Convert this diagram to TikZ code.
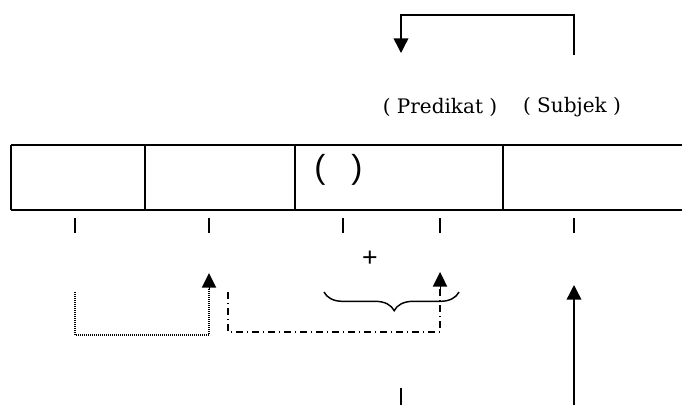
\documentclass[tikz,border=0pt]{standalone}
\usepackage{fontspec}
\setmainfont{DejaVu Serif}
\newfontfamily\labelsans{Liberation Sans}
\usetikzlibrary{arrows.meta,decorations.pathreplacing}

\begin{document}
\begin{tikzpicture}[x=0.75pt,y=-0.75pt,line cap=butt]
  % parameters (pixel grid of the sheet)
  \def\top{145}    % upper edge of the strip
  \def\bot{210}    % lower edge of the strip
  \def\tkA{218}    % tick marks below the strip
  \def\tkB{233}

  \tikzset{
    tipline/.style={line width=1.1pt,-{Triangle[length=11pt,width=11pt]}},
    dotline/.style={line width=0.8pt,dash pattern=on 0.7pt off 0.8pt},
    dashdotline/.style={line width=0.9pt,dash pattern=on 5pt off 3pt on 1pt off 3pt},
    labeltext/.style={font=\fontsize{15}{17}\selectfont},
  }

  \useasboundingbox (0,0) rectangle (682,405);

  % strip with four cells (right side runs off the sheet)
  \draw[line width=1.6pt] (11,\top) -- (682,\top);
  \draw[line width=1.6pt] (11,\bot) -- (682,\bot);
  \foreach \xc in {11,145,295,503}
    \draw[line width=1.3pt] (\xc,\top) -- (\xc,\bot);

  % parentheses in the third cell
  \node[font=\labelsans\fontsize{25}{25}\selectfont] (lpar) at (320,170) {(};
  \node[font=\labelsans\fontsize{25}{25}\selectfont] (rpar) at (357,170) {)};

  % labels above the strip
  \node[labeltext] (pred) at (440,107) {( Predikat )};
  \node[labeltext] (subj) at (572,107) {( Subjek )};

  % tick marks under the strip
  \foreach \xc in {75,209,343,440,574}
    \draw[line width=1.2pt] (\xc,\tkA) -- (\xc,\tkB);

  \node[font=\labelsans\fontsize{20}{22}\selectfont] (plus) at (370,259) {+};

  % top connector: subject back to predicate
  \coordinate (subjtop) at (574,55);
  \coordinate (predtip) at (401,53);
  \draw[tipline] (subjtop) |- (401,15) -- (predtip);

  % dotted bracket
  \coordinate (dotstart) at (75,292);
  \coordinate (dottip) at (209,273);
  \draw[dotline] (dotstart) |- (209,335) -- (209,288);
  \draw[tipline,line width=0pt] (209,289) -- (dottip);

  % dash-dot bracket
  \coordinate (dashstart) at (228,292);
  \coordinate (dashtip) at (440,272);
  \draw[dashdotline] (dashstart) |- (440,332) -- (440,288);
  \draw[tipline,line width=0pt] (440,288) -- (dashtip);

  % brace under the third cell
  \draw[line width=1.1pt,decorate,decoration={brace,mirror,amplitude=14pt,aspect=0.52}]
    (324,292) -- (459,292);

  % bottom marks
  \coordinate (lowtick) at (401,388);
  \draw[line width=1.2pt] (lowtick) -- (401,405);
  \coordinate (subjfoot) at (574,405);
  \coordinate (subjtip) at (574,285);
  \draw[tipline] (subjfoot) -- (subjtip);
\end{tikzpicture}
\end{document}
